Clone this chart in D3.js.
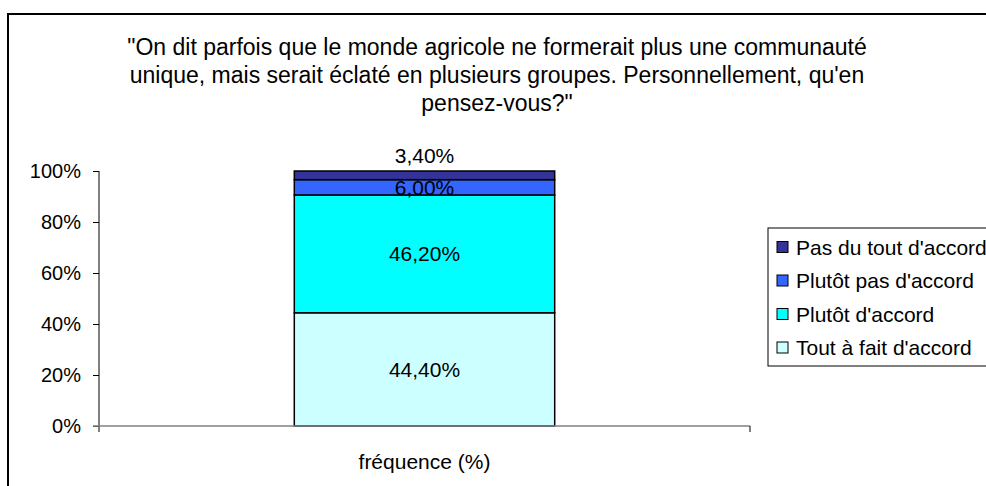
<!DOCTYPE html>
<html><head><meta charset="utf-8">
<script src="https://cdn.jsdelivr.net/npm/d3@7"></script>
<style>
html,body{margin:0;padding:0;background:#fff;}
text{font-family:"Liberation Sans",Arial,sans-serif;fill:#000;}
</style></head>
<body>
<svg id="chart" width="986" height="486"></svg>
<script>
const categories = ["fréquence (%)"];
const seriesNames = ["Tout à fait d'accord", "Plutôt d'accord", "Plutôt pas d'accord", "Pas du tout d'accord"];
const seriesValues = [44.4, 46.2, 6.0, 3.4];
const seriesLabels = ["44,40%", "46,20%", "6,00%", "3,40%"];
const seriesColors = ["#CCFFFF", "#00FFFF", "#3366FF", "#333399"];
const yTicks = [0, 20, 40, 60, 80, 100];
const yTickLabels = ["0%", "20%", "40%", "60%", "80%", "100%"];
const titleLines = ["\"On dit parfois que le monde agricole ne formerait plus une communauté",
  "unique, mais serait éclaté en plusieurs groupes. Personnellement, qu'en",
  "pensez-vous?\""];

const svg = d3.select("#chart");
// outer chart border
svg.append("rect").attr("x", 8).attr("y", 14).attr("width", 1000).attr("height", 500)
  .attr("fill", "none").attr("stroke", "#000").attr("stroke-width", 2);

// title
svg.append("g").selectAll("text").data(titleLines).join("text")
  .attr("x", 497).attr("y", (d, i) => 47 + i * 28)
  .attr("text-anchor", "middle").attr("dominant-baseline", "central")
  .attr("font-size", 23).text(d => d);

const plot = {left: 99, right: 750, top: 171, bottom: 426};
const x = d3.scaleBand().domain(categories).range([plot.left, plot.right])
  .paddingInner(0.6).paddingOuter(0.3);
const y = d3.scaleLinear().domain([0, 100]).range([plot.bottom, plot.top]);

// stacked data
const stackRow = {cat: categories[0]};
seriesNames.forEach((n, i) => stackRow[n] = seriesValues[i]);
const stacked = d3.stack().keys(seriesNames)([stackRow]);

// bars
const bars = svg.append("g");
stacked.forEach((s, i) => {
  bars.selectAll(null).data(s).join("rect")
    .attr("x", d => x(d.data.cat)).attr("width", x.bandwidth())
    .attr("y", d => y(d[1])).attr("height", d => y(d[0]) - y(d[1]))
    .attr("fill", seriesColors[i]).attr("stroke", "#000").attr("stroke-width", 1.5);
});

// labels
stacked.forEach((s, i) => {
  svg.append("g").selectAll("text").data(s).join("text")
    .attr("x", d => x(d.data.cat) + x.bandwidth() / 2)
    .attr("y", d => (i === stacked.length - 1) ? y(d[1]) - 16 : (y(d[0]) + y(d[1])) / 2)
    .attr("text-anchor", "middle").attr("dominant-baseline", "central")
    .attr("font-size", 21).text(seriesLabels[i]);
});

// y axis
const yAxis = d3.axisLeft(y).tickValues(yTicks).tickFormat((d, i) => yTickLabels[i]).tickSize(6).tickPadding(12);
const gy = svg.append("g").attr("transform", `translate(${plot.left},0)`).call(yAxis);
gy.select(".domain").attr("stroke", "#000").attr("d", `M0,${plot.top}V${plot.bottom + 6}`);
gy.selectAll(".tick line").attr("stroke", "#000");
gy.selectAll(".tick text").attr("font-size", 20).attr("font-family", "Liberation Sans, Arial, sans-serif").attr("fill", "#000");

// x axis
const gx = svg.append("g").attr("transform", `translate(0,${plot.bottom})`);
gx.append("line").attr("x1", plot.left - 6).attr("x2", plot.right).attr("y1", 0).attr("y2", 0)
  .attr("stroke", "#808080").attr("stroke-width", 1.5);
gx.append("line").attr("x1", plot.right).attr("x2", plot.right).attr("y1", 0).attr("y2", 6)
  .attr("stroke", "#000");
gx.selectAll("text").data(categories).join("text")
  .attr("x", d => x(d) + x.bandwidth() / 2).attr("y", 35)
  .attr("text-anchor", "middle").attr("dominant-baseline", "central")
  .attr("font-size", 21).text(d => d);

// legend
const legend = svg.append("g");
legend.append("rect").attr("x", 768).attr("y", 228).attr("width", 260).attr("height", 138)
  .attr("fill", "#fff").attr("stroke", "#000").attr("stroke-width", 1);
const legendOrder = seriesNames.map((n, i) => i).reverse();
legendOrder.forEach((si, r) => {
  const cy = 247 + r * 33.5;
  legend.append("rect").attr("x", 777).attr("y", cy - 5.5).attr("width", 11).attr("height", 11)
    .attr("fill", seriesColors[si]).attr("stroke", "#000").attr("stroke-width", 1);
  legend.append("text").attr("x", 796).attr("y", cy).attr("dominant-baseline", "central")
    .attr("font-size", 21).text(seriesNames[si]);
});
</script>
</body></html>
